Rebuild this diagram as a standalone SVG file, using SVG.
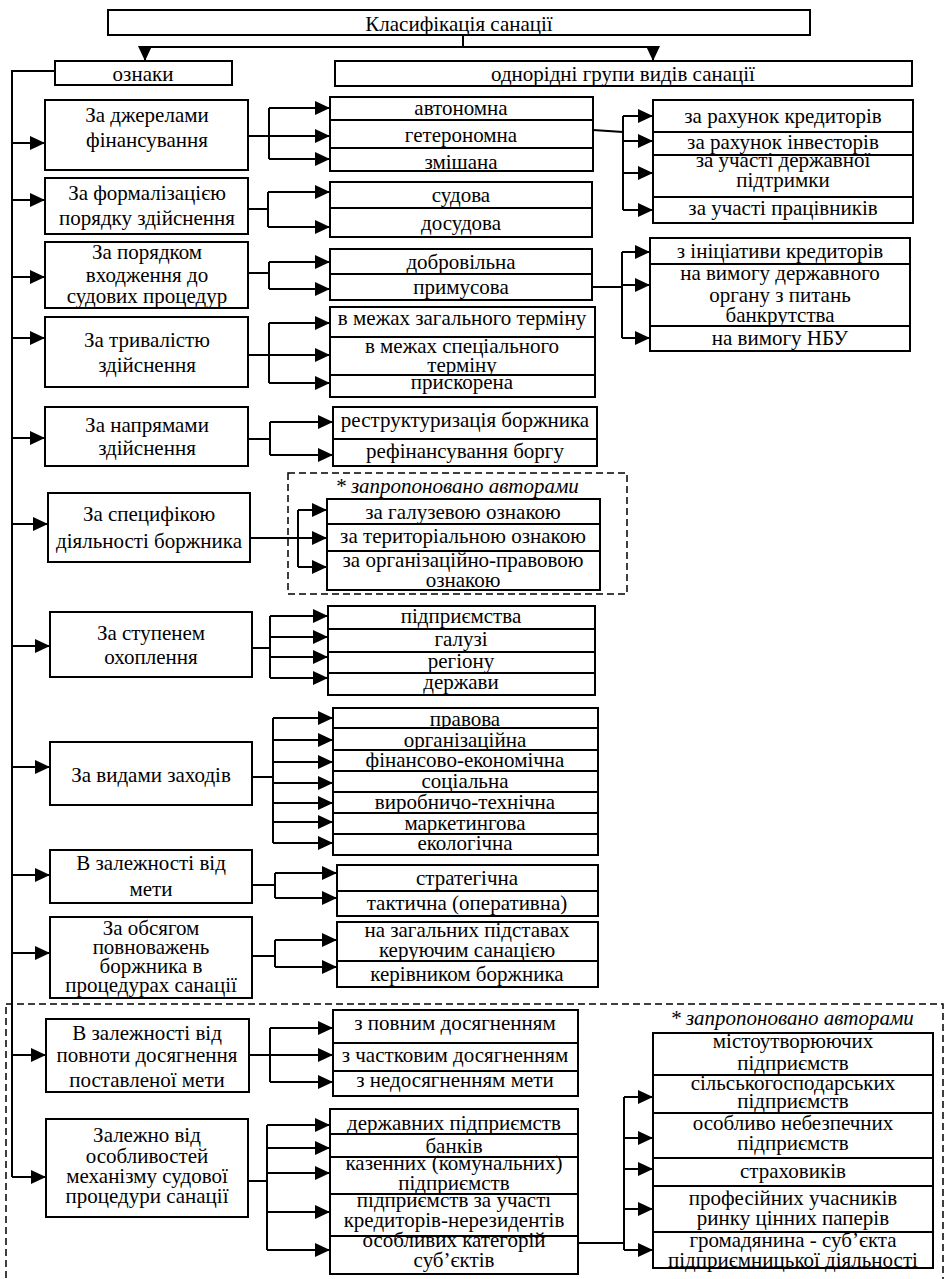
<svg xmlns="http://www.w3.org/2000/svg" width="946" height="1279" viewBox="0 0 946 1279" font-family="'Liberation Serif', 'DejaVu Serif', serif">
<style>
.b{fill:#fff;stroke:#000;stroke-width:2}
.t{font-family:'Liberation Serif','DejaVu Serif',serif;font-size:21px;text-anchor:middle;fill:#000}
.i{font-style:italic}
.c{fill:none;stroke:#000;stroke-width:2}
.a{fill:none;stroke:#000;stroke-width:2;marker-end:url(#ah)}
.d{fill:none;stroke:#000;stroke-width:1.5;stroke-dasharray:7 4}
</style>
<defs>
<marker id="ah" viewBox="0 0 15 14" refX="15" refY="7" markerWidth="15" markerHeight="14" markerUnits="userSpaceOnUse" orient="auto"><path d="M0,0 L15,7 L0,14 z" fill="#000"/></marker>
</defs>
<rect width="946" height="1279" fill="#fff"/>

<g id="dashed-frames">
<rect class="d" x="288" y="473" width="339" height="121"/>
<rect class="d" x="6" y="1004" width="937" height="300"/>
<text class="t i" x="457" y="493">* запропоновано авторами</text>
<text class="t i" x="792" y="1025">* запропоновано авторами</text>
</g>

<g id="connectors">
<path class="c" d="M463,35 V47 M145,47 H653"/>
<path class="a" d="M145,47 V61"/>
<path class="a" d="M653,47 V61"/>
<path class="c" d="M55,71 H12 V1177"/>
<path class="a" d="M12,143 H45"/>
<path class="a" d="M12,200 H45"/>
<path class="a" d="M12,277 H45"/>
<path class="a" d="M12,338 H45"/>
<path class="a" d="M12,438 H45"/>
<path class="a" d="M12,524 H48"/>
<path class="a" d="M12,646 H50"/>
<path class="a" d="M12,767 H50"/>
<path class="a" d="M12,875 H50"/>
<path class="a" d="M12,953 H50"/>
<path class="a" d="M12,1055 H46"/>
<path class="a" d="M12,1177 H46"/>

<path class="c" d="M248,136 H269 M269,108 V159"/>
<path class="a" d="M269,108 H330"/><path class="a" d="M269,136 H330"/><path class="a" d="M269,159 H330"/>
<path class="c" d="M593,130 L623,132 M623,116 V210"/>
<path class="a" d="M623,116 H653"/><path class="a" d="M623,141 H653"/><path class="a" d="M623,173 H653"/><path class="a" d="M623,210 H653"/>

<path class="c" d="M248,209 H268 M268,192 V227"/>
<path class="a" d="M268,192 H330"/><path class="a" d="M268,227 H330"/>

<path class="c" d="M248,273 H269 M269,262 V289"/>
<path class="a" d="M269,262 H330"/><path class="a" d="M269,289 H330"/>
<path class="c" d="M592,287 H622 M622,252 V338"/>
<path class="a" d="M622,252 H650"/><path class="a" d="M622,285 H650"/><path class="a" d="M622,338 H650"/>

<path class="c" d="M248,355 H269 M269,323 V383"/>
<path class="a" d="M269,323 H330"/><path class="a" d="M269,355 H330"/><path class="a" d="M269,383 H330"/>

<path class="c" d="M248,439 H270 M270,422 V455"/>
<path class="a" d="M270,422 H333"/><path class="a" d="M270,455 H333"/>

<path class="a" d="M250,538 H327"/>
<path class="c" d="M298,510 V567"/>
<path class="a" d="M298,510 H327"/><path class="a" d="M298,567 H327"/>

<path class="c" d="M252,648 H270 M270,616 V678"/>
<path class="a" d="M270,616 H328"/><path class="a" d="M270,637 H328"/><path class="a" d="M270,657 H328"/><path class="a" d="M270,678 H328"/>

<path class="c" d="M252,777 H273 M273,718 V843"/>
<path class="a" d="M273,718 H333"/><path class="a" d="M273,740 H333"/><path class="a" d="M273,762 H333"/><path class="a" d="M273,783 H333"/><path class="a" d="M273,803 H333"/><path class="a" d="M273,822 H333"/><path class="a" d="M273,843 H333"/>

<path class="c" d="M252,885 H275 M275,873 V898"/>
<path class="a" d="M275,873 H337"/><path class="a" d="M275,898 H337"/>

<path class="c" d="M252,956 H275 M275,940 V967"/>
<path class="a" d="M275,940 H337"/><path class="a" d="M275,967 H337"/>

<path class="c" d="M249,1055 H270 M270,1028 V1082"/>
<path class="a" d="M270,1028 H333"/><path class="a" d="M270,1055 H333"/><path class="a" d="M270,1082 H333"/>

<path class="c" d="M248,1181 H267 M267,1125 V1250"/>
<path class="a" d="M267,1125 H330"/><path class="a" d="M267,1148 H330"/><path class="a" d="M267,1173 H330"/><path class="a" d="M267,1212 H330"/><path class="a" d="M267,1250 H330"/>
<path class="c" d="M578,1243 H624 M624,1097 V1250"/>
<path class="a" d="M624,1097 H653"/><path class="a" d="M624,1138 H653"/><path class="a" d="M624,1169 H653"/><path class="a" d="M624,1209 H653"/><path class="a" d="M624,1250 H653"/>
</g>

<g id="title"><rect class="b" x="108" y="10" width="702" height="25"/><text class="t" x="459" y="31">Класифікація санації</text></g>
<g id="oznaky"><rect class="b" x="55" y="61" width="177" height="24"/><text class="t" x="143" y="81">ознаки</text></g>
<g id="hrupy"><rect class="b" x="335" y="61" width="577" height="25"/><text class="t" x="623" y="81">однорідні групи видів санації</text></g>

<g id="k1"><rect class="b" x="45" y="100" width="203" height="70"/><text class="t" x="147" y="122">За джерелами</text><text class="t" x="147" y="147">фінансування</text></g>
<g id="k2"><rect class="b" x="45" y="178" width="203" height="56"/><text class="t" x="147" y="200">За формалізацією</text><text class="t" x="147" y="225">порядку здійснення</text></g>
<g id="k3"><rect class="b" x="45" y="242" width="203" height="66"/><text class="t" x="147" y="259">За порядком</text><text class="t" x="147" y="282">входження до</text><text class="t" x="147" y="303">судових процедур</text></g>
<g id="k4"><rect class="b" x="45" y="317" width="203" height="70"/><text class="t" x="147" y="347">За тривалістю</text><text class="t" x="147" y="372">здійснення</text></g>
<g id="k5"><rect class="b" x="45" y="407" width="203" height="59"/><text class="t" x="147" y="432">За напрямами</text><text class="t" x="147" y="455">здійснення</text></g>
<g id="k6"><rect class="b" x="48" y="493" width="202" height="69"/><text class="t" x="149" y="521">За специфікою</text><text class="t" x="149" y="548">діяльності боржника</text></g>
<g id="k7"><rect class="b" x="50" y="612" width="202" height="65"/><text class="t" x="151" y="640">За ступенем</text><text class="t" x="151" y="664">охоплення</text></g>
<g id="k8"><rect class="b" x="50" y="742" width="202" height="63"/><text class="t" x="151" y="782">За видами заходів</text></g>
<g id="k9"><rect class="b" x="50" y="850" width="202" height="53"/><text class="t" x="151" y="870">В залежності від</text><text class="t" x="151" y="896">мети</text></g>
<g id="k10"><rect class="b" x="50" y="917" width="202" height="81"/><text class="t" x="151" y="935">За обсягом</text><text class="t" x="151" y="954">повноважень</text><text class="t" x="151" y="973">боржника в</text><text class="t" x="151" y="992">процедурах санації</text></g>
<g id="k11"><rect class="b" x="46" y="1019" width="203" height="73"/><text class="t" x="147" y="1040">В залежності від</text><text class="t" x="147" y="1062">повноти досягнення</text><text class="t" x="147" y="1087">поставленої мети</text></g>
<g id="k12"><rect class="b" x="46" y="1119" width="202" height="98"/><text class="t" x="147" y="1142">Залежно від</text><text class="t" x="147" y="1163">особливостей</text><text class="t" x="147" y="1183">механізму судової</text><text class="t" x="147" y="1203">процедури санації</text></g>

<g id="s1a"><rect class="b" x="330" y="97" width="263" height="23"/><text class="t" x="461" y="115">автономна</text></g>
<g id="s1b"><rect class="b" x="330" y="120" width="263" height="28"/><text class="t" x="461" y="142">гетерономна</text></g>
<g id="s1c"><rect class="b" x="330" y="148" width="263" height="23"/><text class="t" x="461" y="169">змішана</text></g>
<g id="r1a"><rect class="b" x="653" y="100" width="260" height="32"/><text class="t" x="783" y="123">за рахунок кредиторів</text></g>
<g id="r1b"><rect class="b" x="653" y="132" width="260" height="23"/><text class="t" x="783" y="149">за рахунок інвесторів</text></g>
<g id="r1c"><rect class="b" x="653" y="155" width="260" height="42"/><text class="t" x="783" y="167">за участі державної</text><text class="t" x="783" y="187">підтримки</text></g>
<g id="r1d"><rect class="b" x="653" y="197" width="260" height="26"/><text class="t" x="783" y="215">за участі працівників</text></g>

<g id="s2a"><rect class="b" x="330" y="182" width="262" height="26"/><text class="t" x="461" y="202">судова</text></g>
<g id="s2b"><rect class="b" x="330" y="208" width="262" height="29"/><text class="t" x="461" y="230">досудова</text></g>

<g id="s3a"><rect class="b" x="330" y="249" width="262" height="25"/><text class="t" x="461" y="269">добровільна</text></g>
<g id="s3b"><rect class="b" x="330" y="274" width="262" height="26"/><text class="t" x="461" y="294">примусова</text></g>
<g id="r3a"><rect class="b" x="650" y="238" width="260" height="26"/><text class="t" x="780" y="258">з ініціативи кредиторів</text></g>
<g id="r3b"><rect class="b" x="650" y="264" width="260" height="62"/><text class="t" x="780" y="280">на вимогу державного</text><text class="t" x="780" y="302">органу з питань</text><text class="t" x="780" y="322">банкрутства</text></g>
<g id="r3c"><rect class="b" x="650" y="326" width="260" height="25"/><text class="t" x="780" y="345">на вимогу НБУ</text></g>

<g id="s4a"><rect class="b" x="330" y="307" width="265" height="30"/><text class="t" x="462" y="325">в межах загального терміну</text></g>
<g id="s4b"><rect class="b" x="330" y="337" width="265" height="38"/><text class="t" x="462" y="353">в межах спеціального</text><text class="t" x="462" y="372">терміну</text></g>
<g id="s4c"><rect class="b" x="330" y="375" width="265" height="22"/><text class="t" x="462" y="389">прискорена</text></g>

<g id="s5a"><rect class="b" x="333" y="407" width="264" height="32"/><text class="t" x="465" y="427">реструктуризація боржника</text></g>
<g id="s5b"><rect class="b" x="333" y="439" width="264" height="27"/><text class="t" x="465" y="458">рефінансування боргу</text></g>

<g id="s6a"><rect class="b" x="327" y="499" width="273" height="25"/><text class="t" x="463" y="519">за галузевою ознакою</text></g>
<g id="s6b"><rect class="b" x="327" y="524" width="273" height="27"/><text class="t" x="463" y="543">за територіальною ознакою</text></g>
<g id="s6c"><rect class="b" x="327" y="551" width="273" height="39"/><text class="t" x="463" y="567">за організаційно-правовою</text><text class="t" x="463" y="587">ознакою</text></g>

<g id="s7a"><rect class="b" x="328" y="606" width="267" height="23"/><text class="t" x="461" y="623">підприємства</text></g>
<g id="s7b"><rect class="b" x="328" y="629" width="267" height="23"/><text class="t" x="461" y="646">галузі</text></g>
<g id="s7c"><rect class="b" x="328" y="652" width="267" height="21"/><text class="t" x="461" y="668">регіону</text></g>
<g id="s7d"><rect class="b" x="328" y="673" width="267" height="22"/><text class="t" x="461" y="689">держави</text></g>

<g id="s8a"><rect class="b" x="333" y="708" width="265" height="20"/><text class="t" x="465" y="726">правова</text></g>
<g id="s8b"><rect class="b" x="333" y="728" width="265" height="22"/><text class="t" x="465" y="747">організаційна</text></g>
<g id="s8c"><rect class="b" x="333" y="750" width="265" height="21"/><text class="t" x="465" y="767">фінансово-економічна</text></g>
<g id="s8d"><rect class="b" x="333" y="771" width="265" height="21"/><text class="t" x="465" y="788">соціальна</text></g>
<g id="s8e"><rect class="b" x="333" y="792" width="265" height="21"/><text class="t" x="465" y="809">виробничо-технічна</text></g>
<g id="s8f"><rect class="b" x="333" y="813" width="265" height="21"/><text class="t" x="465" y="830">маркетингова</text></g>
<g id="s8g"><rect class="b" x="333" y="834" width="265" height="21"/><text class="t" x="465" y="850">екологічна</text></g>

<g id="s9a"><rect class="b" x="337" y="865" width="261" height="26"/><text class="t" x="467" y="885">стратегічна</text></g>
<g id="s9b"><rect class="b" x="337" y="891" width="261" height="25"/><text class="t" x="467" y="910">тактична (оперативна)</text></g>

<g id="s10a"><rect class="b" x="337" y="922" width="261" height="39"/><text class="t" x="467" y="937">на загальних підставах</text><text class="t" x="467" y="957">керуючим санацією</text></g>
<g id="s10b"><rect class="b" x="337" y="961" width="261" height="26"/><text class="t" x="467" y="981">керівником боржника</text></g>

<g id="s11a"><rect class="b" x="333" y="1010" width="245" height="33"/><text class="t" x="455" y="1030">з повним досягненням</text></g>
<g id="s11b"><rect class="b" x="333" y="1043" width="245" height="28"/><text class="t" x="455" y="1062">з частковим досягненням</text></g>
<g id="s11c"><rect class="b" x="333" y="1071" width="245" height="25"/><text class="t" x="455" y="1087">з недосягненням мети</text></g>

<g id="s12a"><rect class="b" x="330" y="1109" width="248" height="25"/><text class="t" x="454" y="1130">державних підприємств</text></g>
<g id="s12b"><rect class="b" x="330" y="1134" width="248" height="23"/><text class="t" x="454" y="1153">банків</text></g>
<g id="s12c"><rect class="b" x="330" y="1157" width="248" height="37"/><text class="t" x="454" y="1170">казенних (комунальних)</text><text class="t" x="454" y="1190">підприємств</text></g>
<g id="s12d"><rect class="b" x="330" y="1194" width="248" height="42"/><text class="t" x="454" y="1207">підприємств за участі</text><text class="t" x="454" y="1227">кредиторів-нерезидентів</text></g>
<g id="s12e"><rect class="b" x="330" y="1236" width="248" height="38"/><text class="t" x="454" y="1247">особливих категорій</text><text class="t" x="454" y="1267">суб’єктів</text></g>

<g id="r12a"><rect class="b" x="653" y="1033" width="280" height="42"/><text class="t" x="793" y="1048">містоутворюючих</text><text class="t" x="793" y="1070">підприємств</text></g>
<g id="r12b"><rect class="b" x="653" y="1075" width="280" height="38"/><text class="t" x="793" y="1090">сільськогосподарських</text><text class="t" x="793" y="1108">підприємств</text></g>
<g id="r12c"><rect class="b" x="653" y="1113" width="280" height="45"/><text class="t" x="793" y="1130">особливо небезпечних</text><text class="t" x="793" y="1150">підприємств</text></g>
<g id="r12d"><rect class="b" x="653" y="1158" width="280" height="28"/><text class="t" x="793" y="1178">страховиків</text></g>
<g id="r12e"><rect class="b" x="653" y="1186" width="280" height="46"/><text class="t" x="793" y="1205">професійних учасників</text><text class="t" x="793" y="1225">ринку цінних паперів</text></g>
<g id="r12f"><rect class="b" x="653" y="1232" width="280" height="36"/><text class="t" x="793" y="1247">громадянина - суб’єкта</text><text class="t" x="793" y="1267">підприємницької діяльності</text></g>
</svg>
